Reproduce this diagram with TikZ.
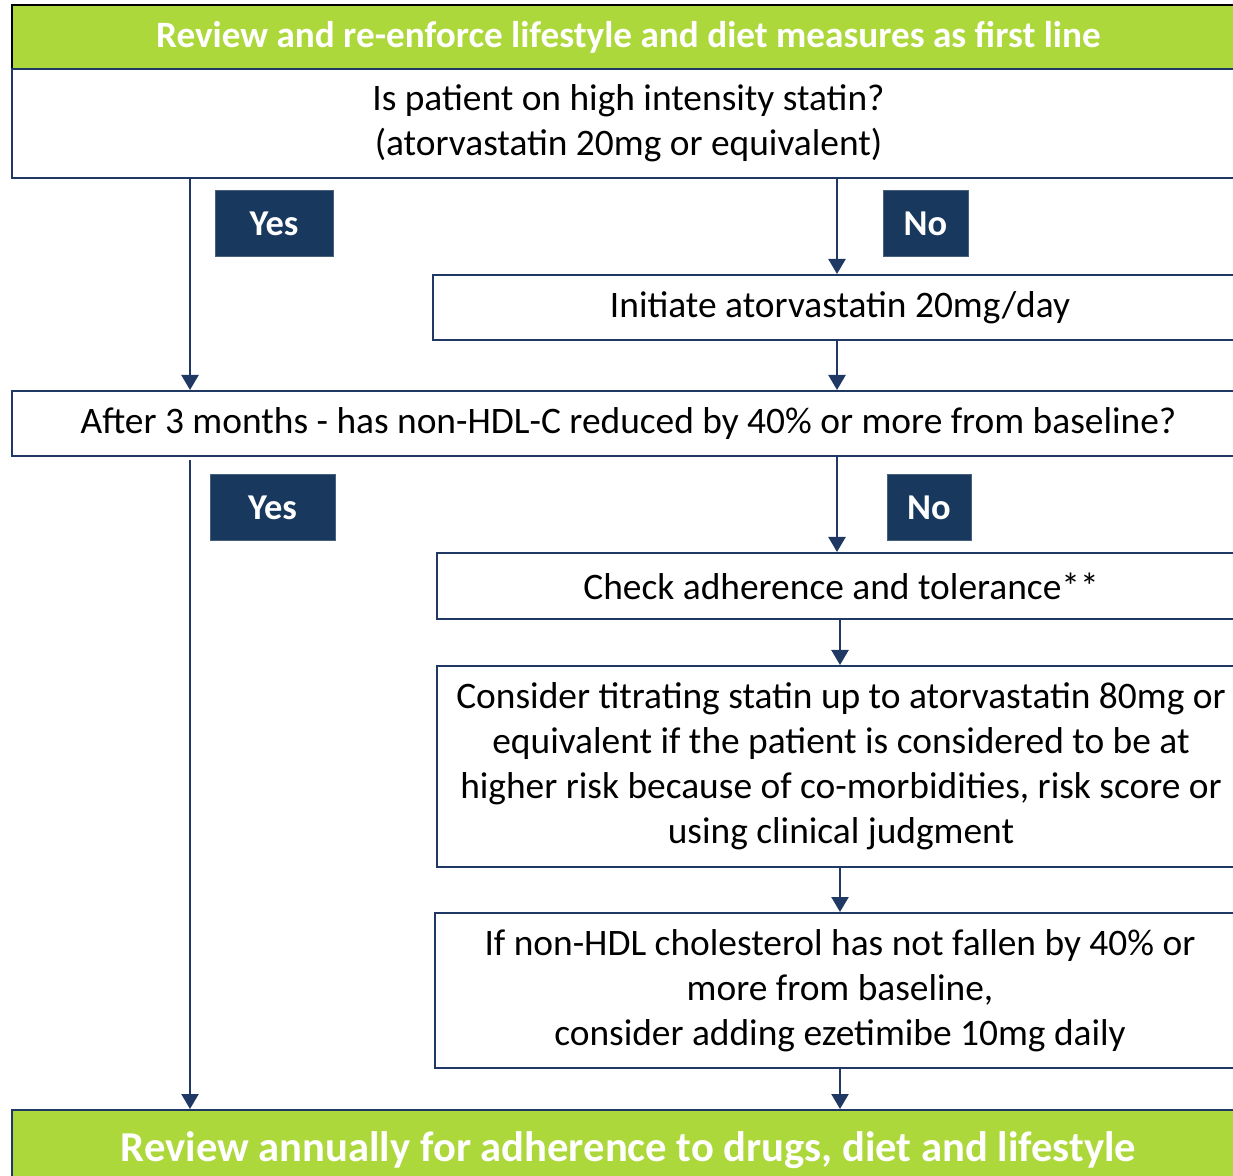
\documentclass[tikz,border=0pt]{standalone}
\usepackage{fontspec}
\setmainfont{Carlito}
\usetikzlibrary{arrows.meta,positioning,calc}
\definecolor{bannergreen}{RGB}{173,216,60}
\definecolor{navyline}{RGB}{31,56,100}
\definecolor{navyfill}{RGB}{24,56,94}

\begin{document}
\begin{tikzpicture}[x=0.5pt,y=-0.5pt,
  box/.style={draw=navyline,line width=1pt,fill=white,align=center,inner sep=0pt,font=\fontsize{18.7}{22.5}\selectfont},
  banner/.style={box,fill=bannergreen,text=white},
  answer/.style={fill=navyfill,draw=navyfill!80!white,line width=0.5pt,text=white,inner sep=0pt,minimum height=33pt,font=\bfseries\fontsize{18.2}{20}\selectfont},
  flow/.style={-{Triangle[width=8.5pt,length=7.5pt]},line width=1.2pt,draw=navyline}]
\useasboundingbox (0,0) rectangle (1233,1176);
\clip (0,0) rectangle (1233,1176);
\node[banner,draw=black,minimum width=616.5pt,minimum height=32pt,font=\bfseries\fontsize{18.6}{20}\selectfont] (first) at (628.5,37) {Review and re-enforce lifestyle and diet measures as first line};
\node[box,minimum width=616.5pt,minimum height=54.5pt] (onstatin) at (628.5,123.5) {Is patient on high intensity statin?\\(atorvastatin 20mg or equivalent)};
\node[answer,minimum width=59pt] (yes1) at (274,224) {Yes};
\node[answer,minimum width=42.5pt] (no1) at (925.5,224) {No};
\node[box,minimum width=407pt,minimum height=32.5pt] (initiate) at (840,307.5) {Initiate atorvastatin 20mg/day};
\node[box,minimum width=616.5pt,minimum height=32.5pt] (threemonths) at (628.5,423.5) {After 3 months - has non-HDL-C reduced by 40\% or more from baseline?};
\node[answer,minimum width=62.5pt] (yes2) at (272.5,507.5) {Yes};
\node[answer,minimum width=42pt] (no2) at (929,507.5) {No};
\node[box,minimum width=404pt,minimum height=33pt] (adherence) at (841,586) {Check adherence and tolerance**};
\node[box,minimum width=404pt,minimum height=100.5pt] (titrate) at (841,766.5) {Consider titrating statin up to atorvastatin 80mg or\\equivalent if the patient is considered to be at\\higher risk because of co-morbidities, risk score or\\using clinical judgment};
\node[box,minimum width=405pt,minimum height=77.5pt] (ezetimibe) at (840,990.5) {If non-HDL cholesterol has not fallen by 40\% or\\more from baseline,\\consider adding ezetimibe 10mg daily};
\node[banner,minimum width=616.5pt,minimum height=40pt,font=\bfseries\fontsize{21.3}{24}\selectfont] (annual) at (628.5,1150) {Review annually for adherence to drugs, diet and lifestyle};
\coordinate (yesx) at (190,0);
\coordinate (nox) at (837,0);
\coordinate (stepx) at (840,0);
\draw[flow] (onstatin.south -| yesx) -- (threemonths.north -| yesx);
\draw[flow] (onstatin.south -| nox) -- (initiate.north -| nox);
\draw[flow] (initiate.south -| nox) -- (threemonths.north -| nox);
\draw[flow] ([yshift=-1.5pt]threemonths.south -| yesx) -- (annual.north -| yesx);
\draw[flow] (threemonths.south -| nox) -- (adherence.north -| nox);
\draw[flow] (adherence.south -| stepx) -- (titrate.north -| stepx);
\draw[flow] (titrate.south -| stepx) -- (ezetimibe.north -| stepx);
\draw[flow] (ezetimibe.south -| stepx) -- (annual.north -| stepx);
\end{tikzpicture}
\end{document}
